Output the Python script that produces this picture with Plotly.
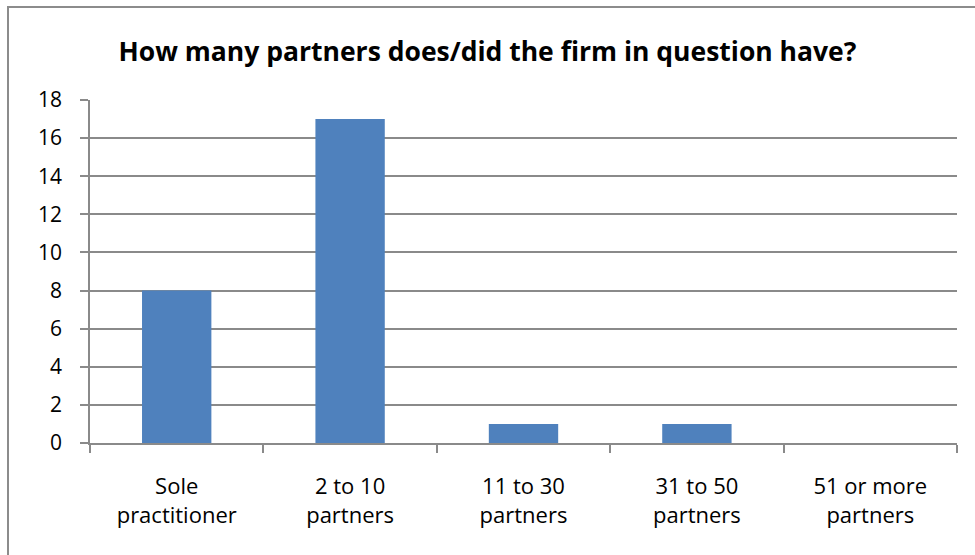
import plotly.graph_objects as go

categories = ["Sole<br>practitioner", "2 to 10<br>partners", "11 to 30<br>partners",
              "31 to 50<br>partners", "51 or more<br>partners"]
counts = [8, 17, 1, 1, 0]
y_ticks = [0, 2, 4, 6, 8, 10, 12, 14, 16, 18]

FONT = "Open Sans"
GRID = "#8a8a8a"

# Plot area in pixels: x 90..957, y 100..443 on a 975x555 canvas
L, R, T, B = 90, 18, 100, 112
W, H = 975, 555
pw, ph = W - L - R, H - T - B

def px_x(v):
    return (v - L) / pw

def px_y(v):
    return (H - B - v) / ph

fig = go.Figure(
    go.Bar(
        x=categories,
        y=counts,
        marker=dict(color="#4F81BD", line=dict(width=0)),
    )
)

fig.update_layout(
    width=W,
    height=H,
    margin=dict(l=L, r=R, t=T, b=B),
    paper_bgcolor="white",
    plot_bgcolor="white",
    bargap=0.6,
    showlegend=False,
    title=dict(
        text="<b>How many partners does/did the firm in question have?</b>",
        x=0.5,
        xanchor="center",
        y=1 - 52 / H,
        yanchor="middle",
        font=dict(family=FONT, size=26.5, color="black"),
    ),
    font=dict(family=FONT, color="black"),
    xaxis=dict(
        type="category",
        showline=True,
        linecolor=GRID,
        linewidth=1.5,
        ticks="outside",
        tickson="boundaries",
        ticklen=8,
        tickcolor=GRID,
        tickwidth=1.5,
        showgrid=False,
        tickfont=dict(family=FONT, size=22, color="black"),
        ticklabelstandoff=23,
    ),
    yaxis=dict(
        range=[0, 18],
        tickvals=y_ticks,
        showline=True,
        linecolor=GRID,
        linewidth=1.5,
        ticks="outside",
        ticklen=8,
        tickcolor=GRID,
        tickwidth=1.5,
        showgrid=True,
        gridcolor=GRID,
        gridwidth=1.5,
        zeroline=False,
        tickfont=dict(family=FONT, size=21, color="black"),
        ticklabelstandoff=14,
    ),
    shapes=[
        dict(
            type="rect",
            xref="paper",
            yref="paper",
            x0=px_x(8),
            x1=px_x(990),
            y0=px_y(570),
            y1=px_y(7),
            line=dict(color="#8c8c8c", width=2),
            fillcolor="rgba(0,0,0,0)",
            layer="below",
        )
    ],
)

fig.write_html("out.html")
